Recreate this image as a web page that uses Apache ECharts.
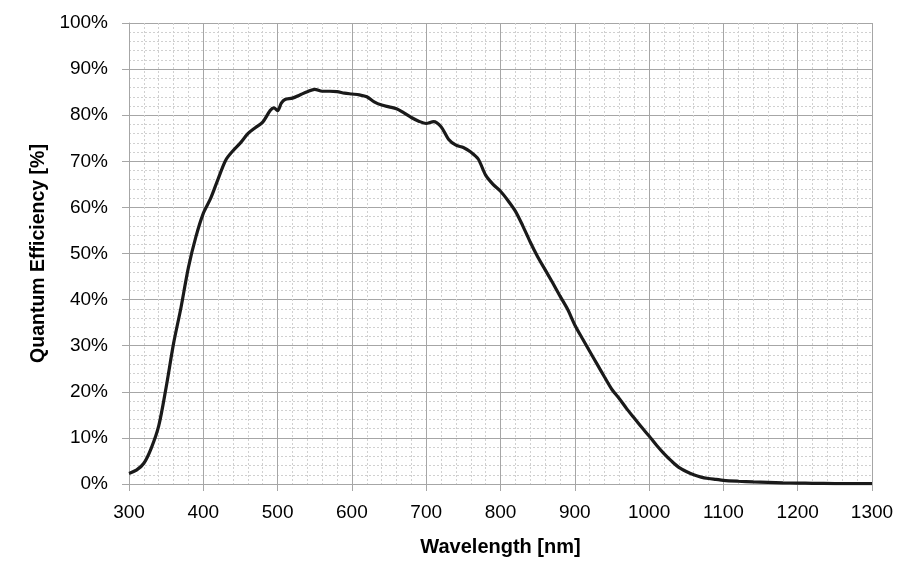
<!DOCTYPE html>
<html>
<head>
<meta charset="utf-8">
<script src="https://cdn.jsdelivr.net/npm/echarts@6/dist/echarts.min.js"></script>
<style>html,body{margin:0;padding:0;background:#fff}#c{width:919px;height:573px}</style>
</head>
<body>
<div id="c"></div>
<script>
const wavelengths = [300,310,320,330,340,350,360,370,380,390,400,410,420,430,440,450,460,470,480,490,495,500,505,510,520,530,540,550,560,570,580,590,600,610,620,630,640,650,660,670,680,690,700,710,720,730,740,750,760,770,780,790,800,810,820,830,840,850,860,870,880,890,900,910,920,930,940,950,960,970,980,990,1000,1010,1020,1030,1040,1050,1060,1070,1080,1090,1100,1120,1140,1160,1180,1200,1220,1250,1300];
const qePercent = [2.3,3.0,4.5,7.8,12.6,21.0,30.5,38.3,47.0,53.6,58.7,62.0,66.2,70.2,72.3,74.0,76.0,77.3,78.5,81.0,81.6,81.0,82.6,83.4,83.7,84.4,85.1,85.6,85.2,85.2,85.1,84.8,84.6,84.4,84.0,82.9,82.2,81.8,81.4,80.5,79.5,78.7,78.2,78.6,77.5,74.8,73.5,73.0,72.0,70.5,67.0,65.0,63.5,61.5,59.2,56.0,52.5,49.3,46.5,43.7,40.8,38.0,34.5,31.6,28.8,26.0,23.2,20.5,18.5,16.3,14.3,12.3,10.4,8.4,6.6,5.0,3.6,2.7,2.0,1.5,1.2,1.0,0.8,0.6,0.45,0.35,0.25,0.2,0.15,0.1,0.1];
const xTitle = 'Wavelength [nm]';
const yTitle = 'Quantum Efficiency [%]';

const font = '"Liberation Sans", Arial, sans-serif';
const chart = echarts.init(document.getElementById('c'), null, {renderer: 'canvas'});
const gridColor = '#a6a6a6';
const minorColor = '#d0d0d0';
chart.setOption({
  animation: false,
  backgroundColor: '#fff',
  grid: {left: 129, right: 47, top: 23, bottom: 89, containLabel: false},
  xAxis: {
    type: 'value', min: 300, max: 1300, interval: 100,
    name: xTitle, nameLocation: 'middle', nameGap: 53,
    nameTextStyle: {fontFamily: font, fontWeight: 'bold', fontSize: 20, color: '#000'},
    axisLine: {show: true, lineStyle: {color: gridColor, width: 1}},
    axisTick: {show: true, length: 7, lineStyle: {color: gridColor}},
    axisLabel: {fontFamily: font, fontSize: 19, color: '#000', margin: 19, formatter: v => String(v)},
    splitLine: {show: true, lineStyle: {color: gridColor, width: 1}},
    minorTick: {show: false, splitNumber: 5},
    minorSplitLine: {show: true, lineStyle: {color: minorColor, width: 1, type: [2, 2]}}
  },
  yAxis: {
    type: 'value', min: 0, max: 100, interval: 10,
    name: yTitle, nameLocation: 'middle', nameGap: 79, nameRotate: 90,
    nameTextStyle: {fontFamily: font, fontWeight: 'bold', fontSize: 19.5, color: '#000'},
    axisLine: {show: true, lineStyle: {color: gridColor, width: 1}},
    axisTick: {show: true, length: 7, lineStyle: {color: gridColor}},
    axisLabel: {fontFamily: font, fontSize: 19, color: '#000', margin: 21, formatter: '{value}%'},
    splitLine: {show: true, lineStyle: {color: gridColor, width: 1}},
    minorTick: {show: false, splitNumber: 5},
    minorSplitLine: {show: true, lineStyle: {color: minorColor, width: 1, type: [2, 2]}}
  },
  series: [{
    type: 'line',
    data: wavelengths.map((w, i) => [w, qePercent[i]]),
    showSymbol: false,
    smooth: 0.3,
    lineStyle: {color: '#1a1a1a', width: 3.2},
    z: 5
  }]
});
</script>
</body>
</html>
